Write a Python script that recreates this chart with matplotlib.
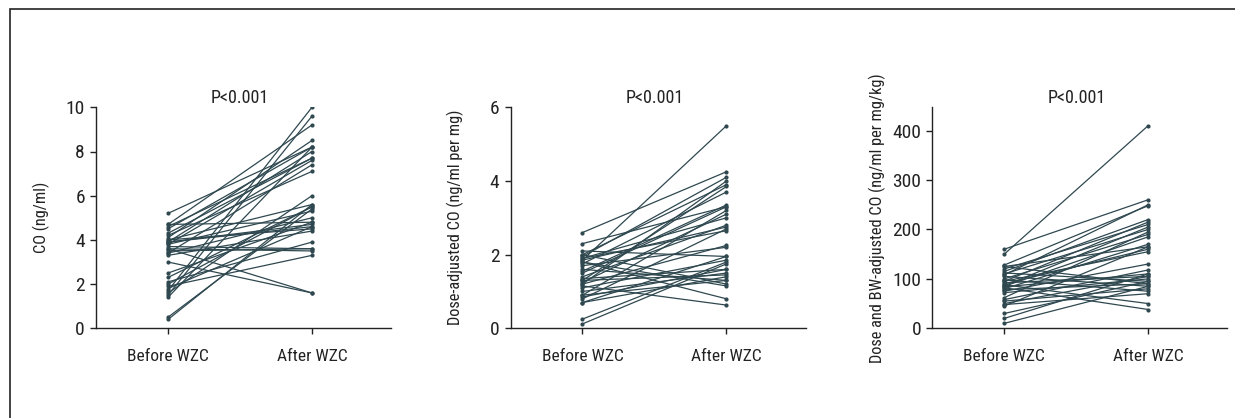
import matplotlib
matplotlib.use("Agg")
import matplotlib.pyplot as plt
from matplotlib.patches import Rectangle
import matplotlib.transforms as mtransforms
from matplotlib import font_manager

# pick a condensed / narrow sans face if one is installed
fam, stretch = 'DejaVu Sans', 'normal'
entries = font_manager.fontManager.ttflist
names = {f.name for f in entries}
for cand in ['Liberation Sans Narrow', 'Roboto Condensed', 'Open Sans Condensed',
             'Noto Sans Condensed', 'DejaVu Sans Condensed']:
    if cand in names:
        fam = cand
        break
else:
    for f in entries:
        if isinstance(f.stretch, str) and 'condensed' in f.stretch and f.style == 'normal' \
                and f.weight in ('normal', 400, 'regular'):
            fam, stretch = f.name, f.stretch
            break

plt.rcParams['font.family'] = [fam, 'DejaVu Sans']
plt.rcParams['font.stretch'] = stretch

categories = ["Before WZC", "After WZC"]

co_before = [5.2, 4.7, 4.6, 4.7, 4.2, 4.1, 4.0, 4.0, 3.9, 3.9, 3.8, 3.8, 3.7, 3.6, 3.5,
             3.4, 3.4, 3.3, 3.0, 2.5, 2.3, 2.1, 1.9, 1.8, 1.7, 1.6, 1.5, 1.4, 0.5, 0.4,
             4.3, 3.6, 4.5, 2.0, 3.9]
co_after = [8.2, 4.8, 7.7, 9.2, 7.1, 8.5, 5.6, 4.5, 8.0, 4.7, 7.6, 5.3, 3.6, 1.6, 3.6,
            7.4, 5.0, 4.4, 1.6, 4.8, 5.5, 3.9, 3.3, 4.6, 10.0, 6.0, 9.6, 8.2, 5.4, 5.6,
            7.7, 3.5, 8.2, 5.5, 4.6]

dose_before = [2.6, 2.3, 1.85, 2.1, 2.0, 1.95, 1.9, 1.85, 1.8, 1.8, 1.75, 1.7, 1.6, 1.5, 1.4,
               1.35, 1.3, 1.3, 1.25, 1.2, 1.15, 1.1, 1.0, 0.9, 0.85, 0.8, 0.7, 0.7, 0.25, 0.12,
               2.0, 1.9, 1.55, 1.2, 0.9]
dose_after = [4.25, 3.3, 5.5, 1.95, 3.9, 4.1, 3.0, 2.75, 1.15, 0.8, 3.7, 2.2, 1.3, 3.3, 2.8,
              1.6, 3.85, 1.45, 3.1, 2.25, 0.63, 1.85, 1.5, 3.2, 1.6, 2.7, 1.95, 1.4, 1.8, 1.75,
              1.2, 2.65, 3.35, 4.0, 1.3]

bw_before = [150, 160, 128, 125, 120, 115, 112, 110, 108, 105, 100, 98, 95, 92, 90,
             88, 86, 84, 82, 80, 78, 75, 72, 62, 58, 55, 50, 48, 45, 30,
             20, 10, 125, 85, 95]
bw_after = [410, 260, 248, 165, 210, 220, 95, 200, 250, 85, 190, 75, 215, 105, 160,
            50, 205, 110, 38, 170, 90, 130, 100, 195, 118, 80, 105, 70, 165, 95,
            110, 85, 90, 185, 155]

panels = [
    (co_before, co_after, "CO (ng/ml)", [0, 10], [0, 2, 4, 6, 8, 10]),
    (dose_before, dose_after, "Dose-adjusted CO (ng/ml per mg)", [0, 6], [0, 2, 4, 6]),
    (bw_before, bw_after, "Dose and BW-adjusted CO (ng/ml per mg/kg)", [0, 447], [0, 100, 200, 300, 400]),
]

W, H = 1235, 418
fig = plt.figure(figsize=(W / 100, H / 100), dpi=100)

lefts = [96, 510.5, 932.3]
ax_w = 295
ax_bottom = 328.3
ax_top = 107.3

line_color = "#2f4850"
axis_color = "#222222"

for (before, after, ylabel, ylim, yticks), lpx in zip(panels, lefts):
    ax = fig.add_axes([lpx / W, (H - ax_bottom) / H, ax_w / W, (ax_bottom - ax_top) / H])
    for b, a in zip(before, after):
        ax.plot([0, 1], [b, a], color=line_color, lw=0.9, marker='o', ms=2.0,
                mfc=line_color, mec=line_color, solid_capstyle='round')
    ax.set_xlim(-0.5, 1.549)
    ax.set_ylim(*ylim)
    ax.set_yticks(yticks)
    ax.set_xticks([0, 1])
    ax.set_xticklabels(categories)
    for s in ["top", "right"]:
        ax.spines[s].set_visible(False)
    for s in ["left", "bottom"]:
        ax.spines[s].set_color(axis_color)
        ax.spines[s].set_linewidth(1.0)
    ax.tick_params(axis='both', colors=axis_color, length=4, width=1.0)
    ax.tick_params(axis='x', pad=11, labelsize=12.5)
    ax.tick_params(axis='y', pad=4, labelsize=14)
    ax.set_ylabel(ylabel, fontsize=11.8, color=axis_color, va='center')
    ax.yaxis.set_label_coords(-55 / ax_w, 0.5)
    trans = mtransforms.blended_transform_factory(ax.transData, ax.transAxes)
    ax.text(0.5, 1.04, "P<0.001", transform=trans, ha='center', va='center',
            fontsize=13, color=axis_color)
    ax.patch.set_alpha(0)

# outer frame (top and left edges visible)
fig.add_artist(Rectangle((9.5 / W, -0.1), 1.2, 1.1 - 9.5 / H, transform=fig.transFigure,
                         fill=False, edgecolor=axis_color, lw=1.2))

fig.savefig("out.png", dpi=100)
